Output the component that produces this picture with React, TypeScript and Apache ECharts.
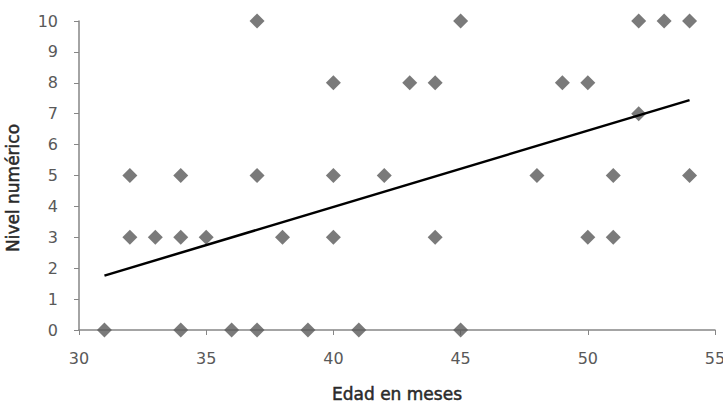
import React, { useEffect, useRef } from "react";
import * as echarts from "echarts";

const ages = [31, 32, 32, 33, 34, 34, 34, 35, 36, 37, 37, 37, 38, 39, 40, 40, 40, 41, 42, 43, 44, 44, 45, 45, 48, 49, 50, 50, 51, 51, 52, 52, 53, 54, 54];
const levels = [0, 5, 3, 3, 5, 3, 0, 3, 0, 10, 5, 0, 3, 0, 8, 5, 3, 0, 5, 8, 8, 3, 10, 0, 5, 8, 8, 3, 5, 3, 10, 7, 10, 10, 5];
const trendX = [31, 54];
const trendY = [1.76, 7.44];

export default function App() {
  const ref = useRef<HTMLDivElement>(null);
  useEffect(() => {
    const chart = echarts.init(ref.current!, null, { renderer: "svg" });
    const font = "'DejaVu Sans', sans-serif";
    const nameStyle = {
      fontFamily: font,
      fontSize: 17,
      color: "#2a2a2a",
      textBorderColor: "#2a2a2a",
      textBorderWidth: 0.5,
    };
    chart.setOption({
      animation: false,
      grid: { left: 79, right: 8, top: 21, bottom: 77, outerBoundsMode: "none", containLabel: false },
      xAxis: {
        type: "value",
        min: 30,
        max: 55,
        interval: 5,
        name: "Edad en meses",
        nameLocation: "middle",
        nameGap: 55,
        nameTextStyle: nameStyle,
        axisLine: { show: true, lineStyle: { color: "#868686", width: 1.5 } },
        axisTick: { show: true, length: 5, lineStyle: { color: "#868686" } },
        axisLabel: { fontFamily: font, fontSize: 16, color: "#595959", margin: 20 },
        splitLine: { show: false },
      },
      yAxis: {
        type: "value",
        min: 0,
        max: 10,
        interval: 1,
        name: "Nivel numérico",
        nameLocation: "middle",
        nameGap: 58,
        nameTextStyle: { ...nameStyle, padding: [0, 25, 0, 0] },
        axisLine: { show: true, lineStyle: { color: "#868686", width: 1.5 } },
        axisTick: { show: true, length: 5, lineStyle: { color: "#868686" } },
        axisLabel: { fontFamily: font, fontSize: 16, color: "#595959", margin: 21 },
        splitLine: { show: false },
      },
      series: [
        {
          type: "scatter",
          symbol: "diamond",
          symbolSize: 15,
          itemStyle: { color: "#595959" },
          data: ages.map((a, i) => [a, levels[i]]),
          z: 2,
        },
        {
          type: "line",
          data: trendX.map((x, i) => [x, trendY[i]]),
          symbol: "none",
          lineStyle: { color: "#000", width: 2.5 },
          z: 3,
        },
      ],
    });
    return () => chart.dispose();
  }, []);
  return <div ref={ref} style={{ width: 723, height: 407, position: "absolute", left: 0, top: 0 }} />;
}
